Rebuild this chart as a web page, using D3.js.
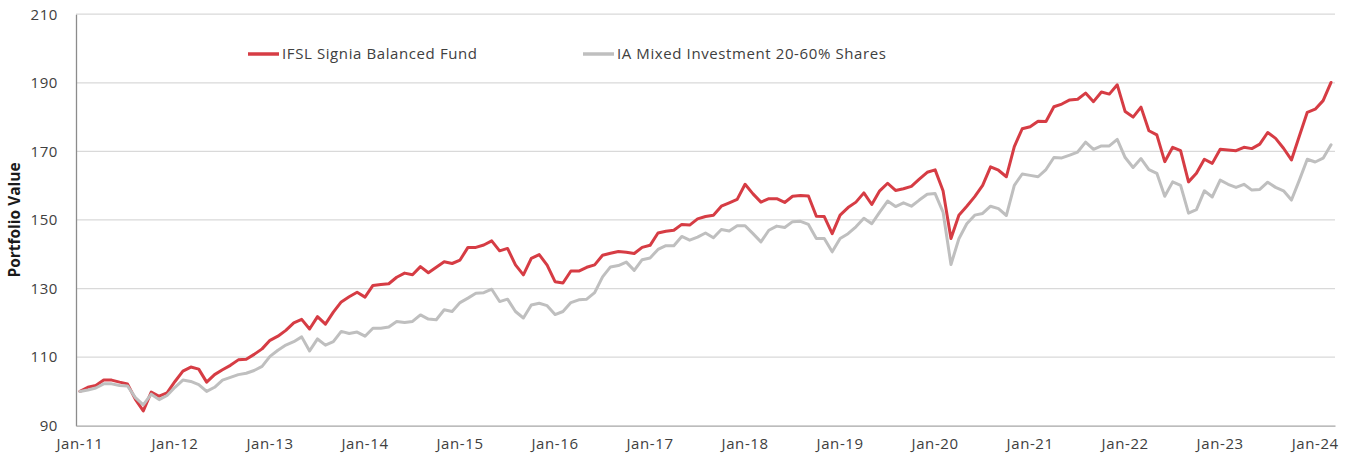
<!DOCTYPE html>
<html><head><meta charset="utf-8">
<script src="https://cdn.jsdelivr.net/npm/d3@7"></script>
<style>body{margin:0;background:#fff} svg{display:block}</style>
</head><body><svg id="chart" width="1354" height="455"></svg>
<script>
// ---- data ----
const seriesNames = ["IFSL Signia Balanced Fund", "IA Mixed Investment 20-60% Shares"];
// monthly categories Jan-11 .. Mar-24
const categories = d3.timeMonth.range(new Date(2011, 0, 1), new Date(2024, 3, 1)).map(d3.timeFormat("%b-%y"));
const tickLabels = ["Jan-11","Jan-12","Jan-13","Jan-14","Jan-15","Jan-16","Jan-17","Jan-18","Jan-19","Jan-20","Jan-21","Jan-22","Jan-23","Jan-24"];
const yTicks = [90, 110, 130, 150, 170, 190, 210];
const fundValues = [
100.0,101.2,101.7,103.3,103.3,102.7,102.2,97.7,94.3,99.8,98.6,99.6,
102.9,105.9,107.1,106.5,102.7,104.9,106.3,107.6,109.2,109.4,110.8,112.4,
114.9,116.1,117.8,120.0,121.0,118.2,121.8,119.6,123.1,126.1,127.6,128.9,
127.5,130.9,131.2,131.4,133.3,134.5,134.0,136.4,134.6,136.2,137.8,137.3,
138.3,142.0,142.0,142.7,143.9,141.0,141.7,136.9,134.0,138.8,139.9,136.8,
132.0,131.6,135.1,135.1,136.2,136.9,139.7,140.3,140.8,140.6,140.2,142.0,
142.6,146.2,146.7,147.0,148.7,148.5,150.3,151.0,151.4,154.0,155.0,156.0,
160.4,157.6,155.2,156.2,156.2,155.1,156.9,157.1,157.0,151.1,151.0,146.0,
151.4,153.6,155.2,157.9,154.5,158.5,160.7,158.6,159.1,159.8,161.9,163.9,
164.6,158.5,144.6,151.4,154.0,156.8,160.1,165.5,164.5,162.6,171.4,176.6,
177.2,178.8,178.7,183.0,183.8,185.0,185.2,187.0,184.5,187.3,186.7,189.4,
181.6,180.0,182.9,176.0,174.8,167.0,171.2,170.2,161.1,163.6,167.7,166.5,
170.6,170.4,170.2,171.2,170.8,172.1,175.5,173.8,170.9,167.5,174.5,181.4,
182.3,184.8,190.1];
const sectorValues = [
100.0,100.4,101.0,102.2,102.2,101.7,101.6,98.2,96.1,99.2,97.6,98.8,
101.2,103.3,102.9,102.0,100.0,101.2,103.3,104.1,104.9,105.3,106.1,107.3,
110.2,112.0,113.5,114.5,115.9,111.8,115.3,113.5,114.5,117.5,116.9,117.3,
116.1,118.4,118.4,118.8,120.4,120.1,120.4,122.3,121.1,120.9,123.8,123.3,
125.9,127.2,128.6,128.8,129.8,126.2,126.9,123.3,121.4,125.2,125.7,125.0,
122.4,123.3,125.9,126.7,126.9,128.8,133.4,136.3,136.7,137.7,135.3,138.4,
138.9,141.4,142.5,142.5,145.2,144.1,145.0,146.2,144.8,147.2,146.8,148.3,
148.3,146.0,143.6,147.0,148.2,147.8,149.5,149.6,148.7,144.6,144.6,140.7,
144.6,146.0,148.0,150.5,148.9,152.3,155.5,153.9,155.0,154.0,155.8,157.5,
157.7,152.3,137.0,144.5,148.9,151.4,151.9,154.0,153.3,151.3,160.1,163.4,
163.0,162.6,164.7,168.2,168.1,168.9,169.8,172.7,170.6,171.6,171.6,173.5,
168.2,165.3,167.9,164.7,163.6,156.9,161.1,160.1,152.0,153.0,158.5,156.7,
161.6,160.4,159.5,160.4,158.7,158.9,161.0,159.5,158.5,155.8,161.6,167.7,
166.9,168.0,171.9];
const seriesColors = ["#d63c44", "#bfbfbf"];

(function () {
const svg = d3.select("#chart");
const font = "'Open Sans', sans-serif";
const fs = 15, ls = 0.6, txt = "#404040";
const mLeft = 76, mRight = 1335, mTop = 14.2, mBottom = 425.7;

const x = d3.scaleBand().domain(categories).range([mLeft, mRight]).padding(0);
const y = d3.scaleLinear().domain([90, 210]).range([mBottom, mTop]);
const cx = c => x(c) + x.bandwidth() / 2;

// gridlines
svg.append("g").selectAll("line").data(yTicks.filter(t => t > 90)).join("line")
  .attr("x1", mLeft).attr("x2", mRight)
  .attr("y1", d => y(d)).attr("y2", d => y(d))
  .attr("stroke", "#d9d9d9").attr("stroke-width", 1.3);

// y axis
const yAxis = svg.append("g").attr("transform", `translate(${mLeft},0)`)
  .call(d3.axisLeft(y).tickValues(yTicks).tickSize(0).tickPadding(18));
yAxis.select(".domain").attr("stroke", "#8c8c8c").attr("stroke-width", 1.3);
yAxis.selectAll("text").attr("font-family", font).attr("font-size", fs)
  .attr("letter-spacing", ls).attr("fill", txt);

// x axis
const xAxis = svg.append("g").attr("transform", `translate(0,${mBottom})`)
  .call(d3.axisBottom(x).tickValues(tickLabels).tickSize(0).tickPadding(13));
xAxis.select(".domain").attr("stroke", "#a6a6a6").attr("stroke-width", 1.3);
xAxis.selectAll("text").attr("font-family", font).attr("font-size", fs)
  .attr("letter-spacing", ls).attr("fill", txt);

// y title
svg.append("text")
  .attr("transform", `translate(20,${(mTop + mBottom) / 2}) rotate(-90)`)
  .attr("text-anchor", "middle")
  .attr("font-family", font).attr("font-weight", 700).attr("font-size", 15.5)
  .attr("fill", "#1a1a1a")
  .text("Portfolio Value");

// lines
const allSeries = [fundValues, sectorValues];
const line = d3.line().x((d, i) => cx(categories[i])).y(d => y(d));
allSeries.forEach((vals, k) => {
  svg.append("path").datum(vals)
    .attr("d", line)
    .attr("fill", "none")
    .attr("stroke", seriesColors[k])
    .attr("stroke-width", 3)
    .attr("stroke-linejoin", "round")
    .attr("stroke-linecap", "round");
});

// legend
const legendX = [248, 583];
const legendY = 54;
seriesNames.forEach((name, k) => {
  const g = svg.append("g").attr("transform", `translate(${legendX[k]},${legendY})`);
  g.append("line").attr("x1", 0).attr("x2", 31).attr("y1", 0).attr("y2", 0)
    .attr("stroke", seriesColors[k]).attr("stroke-width", 3.5);
  g.append("text").attr("x", 34).attr("y", 0).attr("dy", "0.35em")
    .attr("font-family", font).attr("font-size", fs).attr("letter-spacing", ls)
    .attr("fill", txt)
    .text(name);
});
})();
</script>
</body></html>
